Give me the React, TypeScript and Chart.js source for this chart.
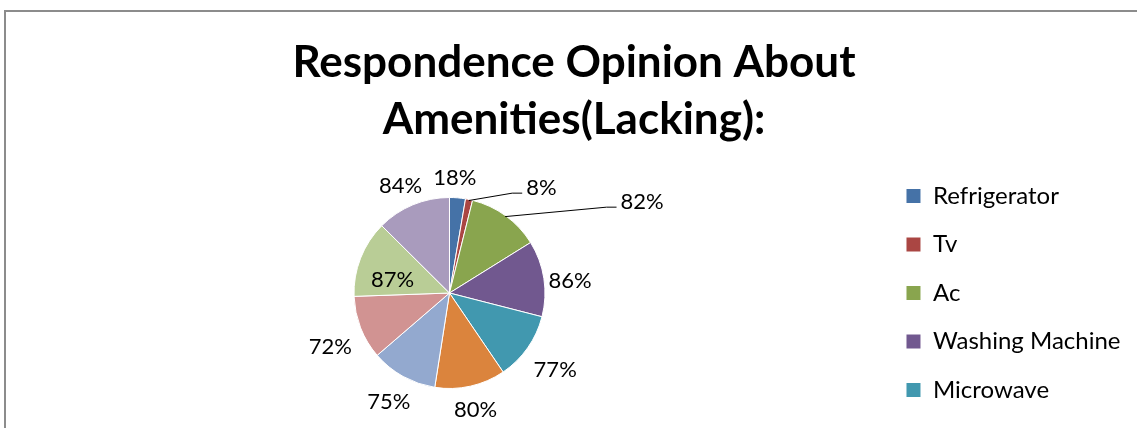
import React, { useEffect, useRef } from 'react';
import { Chart, registerables } from 'chart.js';

Chart.register(...registerables);

// Categories (only the first five legend entries are visible in the cropped reference)
const categories = [
  'Refrigerator',
  'Tv',
  'Ac',
  'Washing Machine',
  'Microwave',
  'Computer',
  'Geyser',
  'Cooler',
  'Water Purifier',
  'Inverter',
];
const values = [18, 8, 82, 86, 77, 80, 75, 72, 87, 84];
const sliceColors = [
  '#4572A7',
  '#AA4643',
  '#89A54E',
  '#71588F',
  '#4198AF',
  '#DB843D',
  '#93A9CF',
  '#D19392',
  '#B9CD96',
  '#A99BBD',
];
const titleLines = ['Respondence Opinion About', 'Amenities(Lacking):'];
const visibleLegendCount = 5;

// Data-label placement (styling): radial distance in radii and angular nudge in degrees
const labelDistance = [1.205, 1.46, 2.23, 1.27, 1.37, 1.25, 1.31, 1.37, 0.61, 1.23];
const labelNudge = [-2.2, 29.4, 28.7, 3, 1, 0, 0, -3, -8.7, -2];
const labelLeader = [false, true, true, false, false, false, false, false, false, false];

const FONT = 'Lato';

const pieLabelsPlugin = {
  id: 'pieLabels',
  afterDatasetsDraw(chart: any) {
    const ctx = chart.ctx;
    const meta = chart.getDatasetMeta(0);
    const data = chart.data.datasets[0].data as number[];
    ctx.save();
    ctx.font = `22px ${FONT}`;
    ctx.fillStyle = '#000';
    ctx.strokeStyle = '#000';
    ctx.lineWidth = 1;
    ctx.textAlign = 'center';
    ctx.textBaseline = 'middle';
    meta.data.forEach((el: any, i: number) => {
      const p = el.getProps(['x', 'y', 'startAngle', 'endAngle', 'outerRadius'], true);
      const mid = (p.startAngle + p.endAngle) / 2;
      const a = mid + (labelNudge[i] * Math.PI) / 180;
      const d = p.outerRadius * labelDistance[i];
      const lx = p.x + Math.cos(a) * d;
      const ly = p.y + Math.sin(a) * d;
      const text = `${data[i]}%`;
      if (labelLeader[i]) {
        const w = ctx.measureText(text).width;
        const sx = p.x + Math.cos(mid) * (p.outerRadius - 1);
        const sy = p.y + Math.sin(mid) * (p.outerRadius - 1);
        const ex = lx - w / 2 - 4;
        const ey = ly + 5;
        ctx.beginPath();
        ctx.moveTo(sx, sy);
        ctx.lineTo(ex - 10, ey);
        ctx.lineTo(ex, ey);
        ctx.stroke();
      }
      ctx.fillText(text, lx, ly);
    });
    ctx.restore();
  },
};

export default function App() {
  const canvasRef = useRef<HTMLCanvasElement | null>(null);

  useEffect(() => {
    if (!canvasRef.current) return;
    const chart = new Chart(canvasRef.current, {
      type: 'pie',
      data: {
        labels: categories,
        datasets: [
          {
            data: values,
            backgroundColor: sliceColors,
            borderColor: '#ffffff',
            borderWidth: 1,
            radius: 95.5,
          } as any,
        ],
      },
      options: {
        responsive: false,
        animation: false,
        events: [],
        layout: { padding: { left: 17.5, right: 6.5, top: 0, bottom: 9 } },
        plugins: {
          title: {
            display: true,
            text: titleLines,
            color: '#000',
            font: { family: FONT, size: 44, weight: 'bold', lineHeight: 57 / 44 },
            padding: { top: 34, bottom: 7 },
          },
          legend: {
            display: true,
            position: 'right',
            fullSize: false,
            labels: {
              color: '#000',
              font: { family: FONT, size: 24 },
              boxWidth: 15,
              boxHeight: 15,
              padding: 24.5,
              filter: (item: any) => item.index < visibleLegendCount,
            },
          },
          tooltip: { enabled: false },
        },
      },
      plugins: [pieLabelsPlugin],
    });
    return () => chart.destroy();
  }, []);

  return (
    <div
      style={{
        position: 'fixed',
        left: 0,
        top: 0,
        width: 1137,
        height: 428,
        overflow: 'hidden',
        background: '#fff',
      }}
    >
      <div
        style={{
          position: 'absolute',
          left: 4,
          top: 10,
          width: 1300,
          height: 600,
          borderLeft: '2px solid #8c8c8c',
          borderTop: '2px solid #8c8c8c',
        }}
      />
      <canvas
        ref={canvasRef}
        width={1137}
        height={440}
        style={{ position: 'absolute', left: 0, top: 0, display: 'block' }}
      />
    </div>
  );
}
